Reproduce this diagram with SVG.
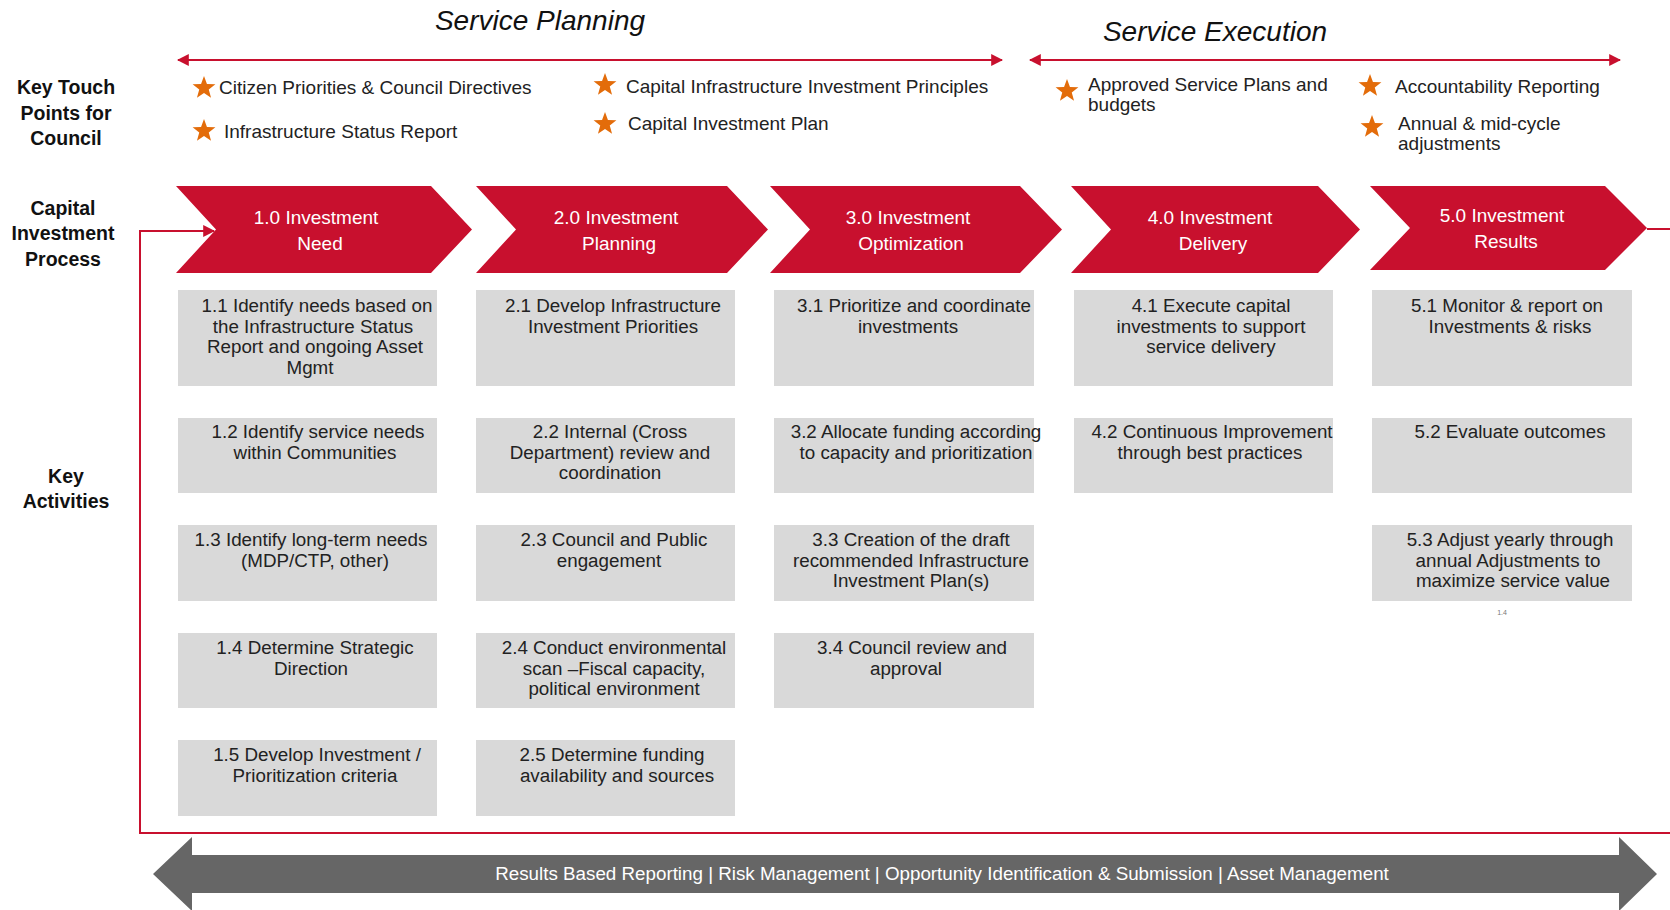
<svg xmlns="http://www.w3.org/2000/svg" xmlns:xlink="http://www.w3.org/1999/xlink" width="1670" height="910" viewBox="0 0 1670 910">
  <style>
    text { font-family: "Liberation Sans", Arial, sans-serif; }
    .title { font-size: 28px; font-style: italic; fill: #111; text-anchor: middle; }
    .side { font-size: 19.5px; font-weight: bold; fill: #111; text-anchor: middle; }
    .tp { font-size: 19px; fill: #222; }
    .chev { fill: #c8102e; }
    .chevtxt { font-size: 19px; fill: #fff; text-anchor: middle; }
    .act { fill: #d9d9d9; }
    .acttxt { font-size: 18.8px; fill: #222; text-anchor: middle; }
    .rline { fill: none; stroke: #c8102e; stroke-width: 2; }
    .star { fill: #e36c0a; }
    .band { fill: #666666; }
    .bandtxt { font-size: 18.8px; fill: #fff; text-anchor: middle; }
  </style>
  <defs>
    <marker id="ah" viewBox="0 0 10 10" refX="9" refY="5" markerWidth="6" markerHeight="6" markerUnits="strokeWidth" orient="auto-start-reverse">
      <path d="M0,0 L10,5 L0,10 Z" fill="#c8102e"/>
    </marker>
    <path id="star" d="M0,-12 L2.94,-4.05 L11.41,-3.71 L4.76,1.55 L7.05,9.71 L0,5 L-7.05,9.71 L-4.76,1.55 L-11.41,-3.71 L-2.94,-4.05 Z"/>
  </defs>

  <!-- phase headings -->
  <g id="phase-planning">
    <text class="title" x="540" y="30">Service Planning</text>
  </g>
  <g id="phase-execution">
    <text class="title" x="1215" y="41">Service Execution</text>
  </g>

  <!-- row labels -->
  <g id="label-touchpoints">
    <text class="side" x="66" y="94">Key Touch</text>
    <text class="side" x="66" y="120">Points for</text>
    <text class="side" x="66" y="145">Council</text>
  </g>
  <g id="label-process">
    <text class="side" x="63" y="215">Capital</text>
    <text class="side" x="63" y="240">Investment</text>
    <text class="side" x="63" y="266">Process</text>
  </g>
  <g id="label-activities">
    <text class="side" x="66" y="483">Key</text>
    <text class="side" x="66" y="508">Activities</text>
  </g>

  <!-- council touch points -->
  <g id="tp-citizen">
    <use xlink:href="#star" class="star" x="204" y="88"/>
    <text class="tp" x="219" y="94">Citizen Priorities &amp; Council Directives</text>
  </g>
  <g id="tp-status">
    <use xlink:href="#star" class="star" x="204" y="131"/>
    <text class="tp" x="224" y="138">Infrastructure Status Report</text>
  </g>
  <g id="tp-principles">
    <use xlink:href="#star" class="star" x="605" y="85"/>
    <text class="tp" x="626" y="93">Capital Infrastructure Investment Principles</text>
  </g>
  <g id="tp-plan">
    <use xlink:href="#star" class="star" x="605" y="124"/>
    <text class="tp" x="628" y="130">Capital Investment Plan</text>
  </g>
  <g id="tp-approved">
    <use xlink:href="#star" class="star" x="1067" y="91"/>
    <text class="tp" x="1088" y="91">Approved Service Plans and</text>
    <text class="tp" x="1088" y="111">budgets</text>
  </g>
  <g id="tp-accountability">
    <use xlink:href="#star" class="star" x="1370" y="86"/>
    <text class="tp" x="1395" y="93">Accountability Reporting</text>
  </g>
  <g id="tp-adjustments">
    <use xlink:href="#star" class="star" x="1372" y="127"/>
    <text class="tp" x="1398" y="130">Annual &amp; mid-cycle</text>
    <text class="tp" x="1398" y="150">adjustments</text>
  </g>

  <!-- process chevrons -->
  <g id="step-1">
    <path class="chev" d="M176,186 H431 L472,229.5 L431,273 H176 L216,229.5 Z"/>
    <text class="chevtxt" x="316" y="224">1.0 Investment</text>
    <text class="chevtxt" x="320" y="250">Need</text>
  </g>
  <g id="step-2">
    <path class="chev" d="M476,186 H727 L768,229.5 L727,273 H476 L516,229.5 Z"/>
    <text class="chevtxt" x="616" y="224">2.0 Investment</text>
    <text class="chevtxt" x="619" y="250">Planning</text>
  </g>
  <g id="step-3">
    <path class="chev" d="M770,186 H1020 L1062,229.5 L1020,273 H770 L810,229.5 Z"/>
    <text class="chevtxt" x="908" y="224">3.0 Investment</text>
    <text class="chevtxt" x="911" y="250">Optimization</text>
  </g>
  <g id="step-4">
    <path class="chev" d="M1071,186 H1318 L1360,229.5 L1318,273 H1071 L1111,229.5 Z"/>
    <text class="chevtxt" x="1210" y="224">4.0 Investment</text>
    <text class="chevtxt" x="1213" y="250">Delivery</text>
  </g>
  <g id="step-5">
    <path class="chev" d="M1370,186 H1605 L1647,228 L1605,270 H1370 L1410,228 Z"/>
    <text class="chevtxt" x="1502" y="222">5.0 Investment</text>
    <text class="chevtxt" x="1506" y="248">Results</text>
  </g>

  <!-- key activities: column 1 -->
  <g id="act-1-1">
    <rect class="act" x="178" y="290" width="259" height="96"/>
    <text class="acttxt" y="312"><tspan x="317">1.1 Identify needs based on</tspan><tspan x="313" dy="20.5">the Infrastructure Status</tspan><tspan x="315" dy="20.5">Report and ongoing Asset</tspan><tspan x="310" dy="20.5">Mgmt</tspan></text>
  </g>
  <g id="act-1-2">
    <rect class="act" x="178" y="418" width="259" height="75"/>
    <text class="acttxt" y="438"><tspan x="318">1.2 Identify service needs</tspan><tspan x="315" dy="20.5">within Communities</tspan></text>
  </g>
  <g id="act-1-3">
    <rect class="act" x="178" y="525" width="259" height="76"/>
    <text class="acttxt" y="546"><tspan x="311">1.3 Identify long-term needs</tspan><tspan x="315" dy="20.5">(MDP/CTP, other)</tspan></text>
  </g>
  <g id="act-1-4">
    <rect class="act" x="178" y="633" width="259" height="75"/>
    <text class="acttxt" y="654"><tspan x="315">1.4 Determine Strategic</tspan><tspan x="311" dy="20.5">Direction</tspan></text>
  </g>
  <g id="act-1-5">
    <rect class="act" x="178" y="740" width="259" height="76"/>
    <text class="acttxt" y="761"><tspan x="317">1.5 Develop Investment /</tspan><tspan x="315" dy="20.5">Prioritization criteria</tspan></text>
  </g>

  <!-- key activities: column 2 -->
  <g id="act-2-1">
    <rect class="act" x="476" y="290" width="259" height="96"/>
    <text class="acttxt" y="312"><tspan x="613">2.1 Develop Infrastructure</tspan><tspan x="613" dy="20.5">Investment Priorities</tspan></text>
  </g>
  <g id="act-2-2">
    <rect class="act" x="476" y="418" width="259" height="75"/>
    <text class="acttxt" y="438"><tspan x="610">2.2 Internal (Cross</tspan><tspan x="610" dy="20.5">Department) review and</tspan><tspan x="610" dy="20.5">coordination</tspan></text>
  </g>
  <g id="act-2-3">
    <rect class="act" x="476" y="525" width="259" height="76"/>
    <text class="acttxt" y="546"><tspan x="614">2.3 Council and Public</tspan><tspan x="609" dy="20.5">engagement</tspan></text>
  </g>
  <g id="act-2-4">
    <rect class="act" x="476" y="633" width="259" height="75"/>
    <text class="acttxt" y="654"><tspan x="614">2.4 Conduct environmental</tspan><tspan x="614" dy="20.5">scan –Fiscal capacity,</tspan><tspan x="614" dy="20.5">political environment</tspan></text>
  </g>
  <g id="act-2-5">
    <rect class="act" x="476" y="740" width="259" height="76"/>
    <text class="acttxt" y="761"><tspan x="612">2.5 Determine funding</tspan><tspan x="617" dy="20.5">availability and sources</tspan></text>
  </g>

  <!-- key activities: column 3 -->
  <g id="act-3-1">
    <rect class="act" x="774" y="290" width="260" height="96"/>
    <text class="acttxt" y="312"><tspan x="914">3.1 Prioritize and coordinate</tspan><tspan x="908" dy="20.5">investments</tspan></text>
  </g>
  <g id="act-3-2">
    <rect class="act" x="774" y="418" width="260" height="75"/>
    <text class="acttxt" y="438"><tspan x="916">3.2 Allocate funding according</tspan><tspan x="916" dy="20.5">to capacity and prioritization</tspan></text>
  </g>
  <g id="act-3-3">
    <rect class="act" x="774" y="525" width="260" height="76"/>
    <text class="acttxt" y="546"><tspan x="911">3.3 Creation of the draft</tspan><tspan x="911" dy="20.5">recommended Infrastructure</tspan><tspan x="911" dy="20.5">Investment Plan(s)</tspan></text>
  </g>
  <g id="act-3-4">
    <rect class="act" x="774" y="633" width="260" height="75"/>
    <text class="acttxt" y="654"><tspan x="912">3.4 Council review and</tspan><tspan x="906" dy="20.5">approval</tspan></text>
  </g>

  <!-- key activities: column 4 -->
  <g id="act-4-1">
    <rect class="act" x="1074" y="290" width="259" height="96"/>
    <text class="acttxt" y="312"><tspan x="1211">4.1 Execute capital</tspan><tspan x="1211" dy="20.5">investments to support</tspan><tspan x="1211" dy="20.5">service delivery</tspan></text>
  </g>
  <g id="act-4-2">
    <rect class="act" x="1074" y="418" width="259" height="75"/>
    <text class="acttxt" y="438"><tspan x="1212">4.2 Continuous Improvement</tspan><tspan x="1210" dy="20.5">through best practices</tspan></text>
  </g>

  <!-- key activities: column 5 -->
  <g id="act-5-1">
    <rect class="act" x="1372" y="290" width="260" height="96"/>
    <text class="acttxt" y="312"><tspan x="1507">5.1 Monitor &amp; report on</tspan><tspan x="1510" dy="20.5">Investments &amp; risks</tspan></text>
  </g>
  <g id="act-5-2">
    <rect class="act" x="1372" y="418" width="260" height="75"/>
    <text class="acttxt" y="438"><tspan x="1510">5.2 Evaluate outcomes</tspan></text>
  </g>
  <g id="act-5-3">
    <rect class="act" x="1372" y="525" width="260" height="76"/>
    <text class="acttxt" y="546"><tspan x="1510">5.3 Adjust yearly through</tspan><tspan x="1508" dy="20.5">annual Adjustments to</tspan><tspan x="1513" dy="20.5">maximize service value</tspan></text>
    <text x="1502" y="615" font-size="7" fill="#777" text-anchor="middle">1.4</text>
  </g>

  <!-- continuous support band -->
  <g id="support-band">
    <path class="band" d="M153,874 L192,837 V855 H1619 V837 L1657,874 L1619,911 V893 H192 V911 Z"/>
    <text class="bandtxt" x="942" y="880">Results Based Reporting | Risk Management | Opportunity Identification &amp; Submission | Asset Management</text>
  </g>

  <!-- connectors -->
  <g id="connectors">
    <path class="rline" d="M178,60 H1002" marker-start="url(#ah)" marker-end="url(#ah)"/>
    <path class="rline" d="M1030,60 H1620" marker-start="url(#ah)" marker-end="url(#ah)"/>
    <path class="rline" d="M1647,229 H1670"/>
    <path class="rline" d="M1670,833 H140 V231 H214" marker-end="url(#ah)"/>
  </g>
</svg>
